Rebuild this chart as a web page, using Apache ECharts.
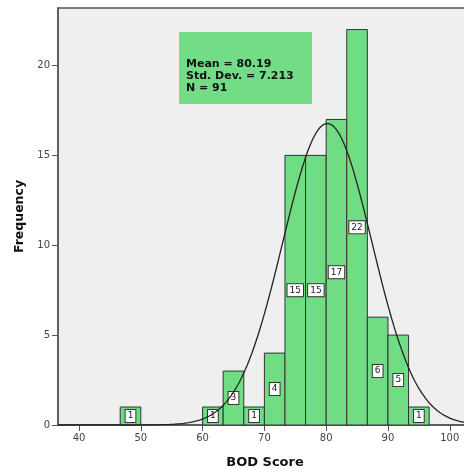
<!DOCTYPE html>
<html><head><meta charset="utf-8">
<script src="https://cdn.jsdelivr.net/npm/echarts@6/dist/echarts.min.js"></script>
<style>html,body{margin:0;padding:0;overflow:hidden;background:#fff;}#c{width:480px;height:472px;}</style>
</head><body><div id="c"></div>
<script>
var binStarts = [46.667, 60, 63.333, 66.667, 70, 73.333, 76.667, 80, 83.333, 86.667, 90, 93.333];
var binWidth = 3.3333;
var counts = [1, 1, 3, 1, 4, 15, 15, 17, 22, 6, 5, 1];
var xTicks = [40, 50, 60, 70, 80, 90, 100];
var yTicks = [0, 5, 10, 15, 20];
var statMean = 80.19, statSD = 7.213, statN = 91;
var statLines = ['Mean = 80.19', 'Std. Dev. = 7.213', 'N = 91'];

var binData = binStarts.map(function (s, i) { return [s, s + binWidth, counts[i]]; });
var curve = [];
for (var x = 36.6; x <= 104; x += 0.2) {
  var z = (x - statMean) / statSD;
  curve.push([x, statN * binWidth * Math.exp(-0.5 * z * z) / (statSD * Math.sqrt(2 * Math.PI))]);
}
var font = '"DejaVu Sans", sans-serif';
var chart = echarts.init(document.getElementById('c'));
chart.setOption({
  animation: false,
  grid: { left: 58, top: 8, right: 8, bottom: 47, outerBoundsMode: 'none', containLabel: false,
    show: true, backgroundColor: '#efefef', borderColor: '#555', borderWidth: 1.5 },
  xAxis: {
    type: 'value', min: 36.6, max: 103.6,
    name: 'BOD Score', nameLocation: 'middle', nameGap: 31,
    nameTextStyle: { fontFamily: font, fontWeight: 'bold', fontSize: 13, color: '#111' },
    axisLine: { show: true, lineStyle: { color: '#555', width: 1.5 } },
    axisTick: { show: true, length: 6, lineStyle: { color: '#555' }, customValues: xTicks },
    axisLabel: { fontFamily: font, fontSize: 10, color: '#444', margin: 8, customValues: xTicks },
    splitLine: { show: false }
  },
  yAxis: {
    type: 'value', min: 0, max: 23.2, interval: 5,
    name: 'Frequency', nameLocation: 'middle', nameGap: 30,
    nameTextStyle: { fontFamily: font, fontWeight: 'bold', fontSize: 12.5, color: '#111' },
    axisLine: { show: true, lineStyle: { color: '#555', width: 1.5 } },
    axisTick: { show: true, length: 6, lineStyle: { color: '#555' } },
    axisLabel: { fontFamily: font, fontSize: 10, color: '#444', margin: 8, showMaxLabel: false,
      formatter: function (v) { return yTicks.indexOf(v) >= 0 ? String(v) : ''; } },
    splitLine: { show: false }
  },
  graphic: [
    { type: 'rect', left: 179, top: 32, shape: { width: 133, height: 72 }, style: { fill: '#72dd86' }, z: 10 },
    { type: 'text', left: 186, top: 58, style: { text: statLines.join('\n'), fontFamily: font, fontWeight: 'bold', fontSize: 11, lineHeight: 12, fill: '#111' }, z: 11 }
  ],
  series: [
    {
      type: 'custom', data: binData, z: 2,
      renderItem: function (params, api) {
        var x0 = api.value(0), x1 = api.value(1), c = api.value(2);
        var p0 = api.coord([x0, c]), p1 = api.coord([x1, 0]);
        return { type: 'group', children: [
          { type: 'rect', shape: { x: p0[0], y: p0[1], width: p1[0] - p0[0], height: p1[1] - p0[1] },
            style: { fill: '#70dc84', stroke: '#333', lineWidth: 1 } },
          { type: 'text', x: (p0[0] + p1[0]) / 2, y: (p0[1] + p1[1]) / 2, z2: 20,
            style: { text: String(c), fontFamily: font, fontSize: 9, fill: '#222', align: 'center', verticalAlign: 'middle',
              backgroundColor: '#fff', borderColor: '#333', borderWidth: 1, padding: [2, 2, 1, 2] } }
        ] };
      }
    },
    { type: 'line', data: curve, showSymbol: false, symbol: 'none', z: 5, lineStyle: { color: '#222', width: 1.3 }, silent: true }
  ]
});
</script></body></html>
